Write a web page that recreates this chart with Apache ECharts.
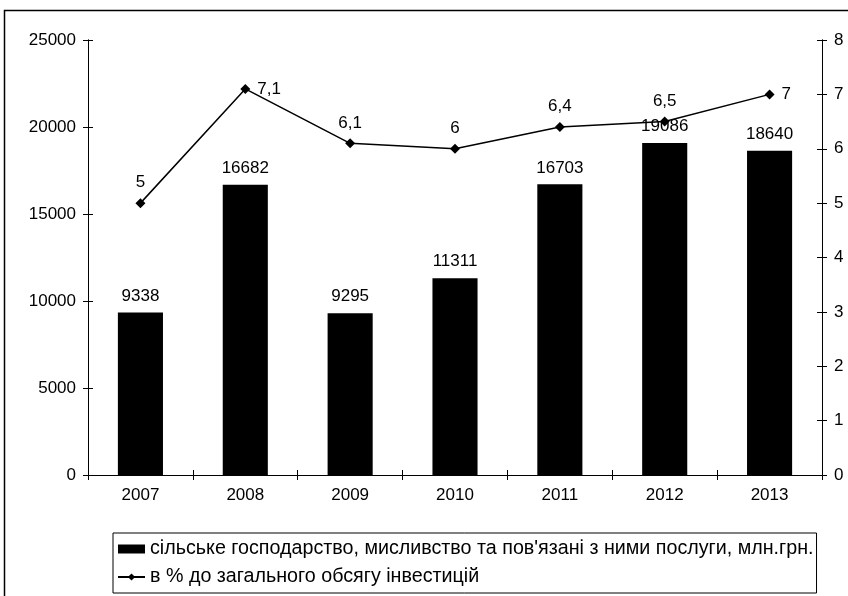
<!DOCTYPE html>
<html><head><meta charset="utf-8">
<script src="https://cdn.jsdelivr.net/npm/echarts@6/dist/echarts.min.js"></script>
<style>html,body{margin:0;padding:0;background:#fff}#c{width:848px;height:596px}</style>
</head><body><div id="c"></div>
<script>
const categories = ['2007','2008','2009','2010','2011','2012','2013'];
const investValues = [9338,16682,9295,11311,16703,19086,18640];
const shareValues = [5,7.1,6.1,6,6.4,6.5,7];
const sharePos = ['top','right','top','top','top','top','right'];
const barName = 'сільське господарство, мисливство та пов\'язані з ними послуги, млн.грн.';
const lineName = 'в % до загального обсягу інвестицій';

const font = 'Liberation Sans, Arial, sans-serif';
const fs = 17;
const chart = echarts.init(document.getElementById('c'));
const axisCommon = {
  axisLine:{show:true,lineStyle:{color:'#000',width:1}},
  splitLine:{show:false}
};
chart.setOption({
  animation:false,
  textStyle:{fontFamily:font,color:'#000'},
  graphic:[{type:'rect',shape:{x:4.5,y:10.5,width:900,height:700},style:{fill:'none',stroke:'#000',lineWidth:1.5},z:-1}],
  grid:{left:88,right:26,top:40,bottom:121},
  legend:{
    orient:'vertical',left:113,top:533,
    borderColor:'#000',borderWidth:1,padding:[6,3,6,4],itemGap:8,
    itemWidth:27,itemHeight:9,
    textStyle:{fontFamily:font,fontSize:19.7,color:'#000'},
    data:[{name:barName,icon:'rect'},{name:lineName}]
  },
  xAxis:[
    Object.assign({type:'category',data:categories,position:'bottom',
      axisTick:{show:true,length:5,lineStyle:{color:'#000'}},
      axisLabel:{fontSize:fs,color:'#000',margin:12,fontFamily:font}},axisCommon),
    Object.assign({type:'category',data:categories,position:'bottom',
      axisTick:{show:true,inside:true,length:5,lineStyle:{color:'#000'}},
      axisLabel:{show:false}},axisCommon)
  ],
  yAxis:[
    Object.assign({type:'value',min:0,max:25000,interval:5000,position:'left',
      axisTick:{show:true,length:5,lineStyle:{color:'#000'}},
      axisLabel:{fontSize:fs,color:'#000',margin:12,fontFamily:font,formatter:v=>String(v)}},axisCommon),
    Object.assign({type:'value',min:0,max:8,interval:1,position:'right',
      axisTick:{show:true,length:5,lineStyle:{color:'#000'}},
      axisLabel:{fontSize:fs,color:'#000',margin:12,fontFamily:font}},axisCommon),
    Object.assign({type:'value',min:0,max:25000,interval:5000,position:'left',
      axisTick:{show:true,inside:true,length:5,lineStyle:{color:'#000'}},
      axisLabel:{show:false}},axisCommon),
    Object.assign({type:'value',min:0,max:8,interval:1,position:'right',
      axisTick:{show:true,inside:true,length:5,lineStyle:{color:'#000'}},
      axisLabel:{show:false}},axisCommon)
  ],
  series:[
    {name:barName,type:'bar',data:investValues,barWidth:'43%',
      itemStyle:{color:'#000'},
      label:{show:true,position:'top',distance:8,fontSize:fs,color:'#000',fontFamily:font}},
    {name:lineName,type:'line',yAxisIndex:1,
      data:shareValues.map((v,i)=>({value:v,label:{position:sharePos[i]}})),
      symbol:'diamond',symbolSize:10,
      lineStyle:{color:'#000',width:1.5},itemStyle:{color:'#000'},
      label:{show:true,fontSize:fs,color:'#000',fontFamily:font,distance:7,
        formatter:p=>String(p.value).replace('.',',')}}
  ]
});
</script></body></html>
